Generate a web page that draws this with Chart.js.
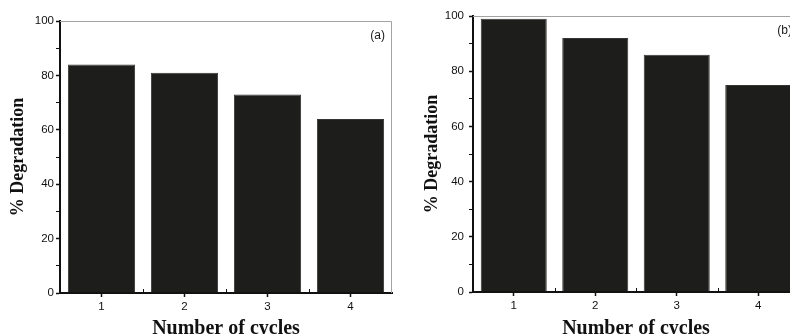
<!DOCTYPE html>
<html>
<head>
<meta charset="utf-8">
<script src="https://cdn.jsdelivr.net/npm/chart.js@4.4.1/dist/chart.umd.min.js"></script>
<style>
  html, body { margin: 0; padding: 0; background: #fff; overflow: hidden; width: 790px; height: 334px; }
  .panel { position: absolute; top: 0; }
  #panelA { left: 0; }
  #panelB { left: 400px; }
</style>
</head>
<body>
<div class="panel" id="panelA"><canvas id="chartA" width="400" height="344"></canvas></div>
<div class="panel" id="panelB"><canvas id="chartB" width="410" height="344"></canvas></div>
<script>
const cycles = ['1', '2', '3', '4'];
const degradationA = [84, 81, 73, 64];
const degradationB = [99, 92, 86, 75];
const yMin = 0;
const yMax = 100;
const yLabelStep = 20;

const tickFont = { family: 'Liberation Sans', size: 11.5 };
const titleFont = { family: 'Liberation Serif', weight: 'bold', size: 18 };
const xTitleFont = { family: 'Liberation Serif', weight: 'bold', size: 20 };

// top/right frame, boundary ticks and the panel letter
const framePlugin = {
  id: 'frame',
  afterDraw(chart, args, opts) {
    const { ctx, chartArea: a } = chart;
    const x = chart.scales.x;
    ctx.save();
    ctx.strokeStyle = '#a3a3a3';
    ctx.lineWidth = 1;
    ctx.beginPath();
    ctx.moveTo(a.left, a.top + 0.5);
    ctx.lineTo(a.right - 0.5, a.top + 0.5);
    ctx.lineTo(a.right - 0.5, a.bottom);
    ctx.stroke();

    ctx.strokeStyle = '#111';
    ctx.lineWidth = 1;
    ctx.beginPath();
    for (let i = 0; i < cycles.length - 1; i++) {
      const bx = Math.round((x.getPixelForValue(i) + x.getPixelForValue(i + 1)) / 2) + 0.5;
      ctx.moveTo(bx, a.bottom);
      ctx.lineTo(bx, a.bottom - 4);
    }
    ctx.stroke();

    ctx.fillStyle = '#1a1a1a';
    ctx.font = '12px "Liberation Sans"';
    ctx.textAlign = 'right';
    ctx.textBaseline = 'middle';
    ctx.fillText(opts.label, a.right - 7, a.top + 15);
    ctx.restore();
  }
};

const makeChart = (id, values, panelLabel, pad, yWidth, xHeight, yTitlePad, yTickPad) => {
  return new Chart(document.getElementById(id), {
    type: 'bar',
    data: {
      labels: cycles,
      datasets: [{
        data: values,
        backgroundColor: '#1d1d1b',
        borderColor: '#353533',
        borderWidth: 1,
        categoryPercentage: 1,
        barPercentage: 0.81
      }]
    },
    options: {
      responsive: false,
      animation: false,
      devicePixelRatio: 1,
      layout: { padding: pad },
      plugins: {
        legend: { display: false },
        tooltip: { enabled: false },
        frame: { label: panelLabel }
      },
      scales: {
        x: {
          offset: true,
          border: { display: true, color: '#111', width: 2 },
          grid: { display: true, offset: false, drawOnChartArea: false, drawTicks: true, tickLength: 4, tickColor: '#111', tickWidth: 1.5 },
          ticks: { color: '#111', font: tickFont, padding: 3, maxRotation: 0 },
          title: { display: true, text: 'Number of cycles', color: '#111', font: xTitleFont, padding: { top: 0, bottom: 3 } },
          afterFit: s => { s.height = xHeight; }
        },
        y: {
          min: yMin,
          max: yMax,
          border: { display: true, color: '#111', width: 2 },
          grid: {
            display: true, drawOnChartArea: false, drawTicks: true, tickLength: 4, tickColor: '#111',
            tickWidth: c => (c.tick && c.tick.value % yLabelStep === 0 ? 1.5 : 1)
          },
          ticks: {
            stepSize: 10,
            color: '#111',
            font: tickFont,
            padding: yTickPad,
            callback: v => (v % yLabelStep === 0 ? v : '')
          },
          title: { display: true, text: '% Degradation', color: '#111', font: titleFont, padding: { top: yTitlePad, bottom: 0 } },
          afterFit: s => { s.width = yWidth; }
        }
      }
    },
    plugins: [framePlugin]
  });
};

makeChart('chartA', degradationA, '(a)', { top: 21, right: 8, left: 0, bottom: 0 }, 60, 51, 8, 2);
makeChart('chartB', degradationB, '(b)', { top: 16, right: 11, left: 0, bottom: 0 }, 73, 52, 22, 5);
</script>
</body>
</html>
